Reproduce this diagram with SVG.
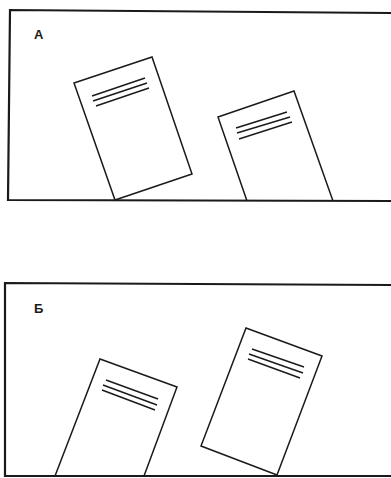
<svg xmlns="http://www.w3.org/2000/svg" width="391" height="478" viewBox="0 0 391 478">
<style>
.frame{fill:none;stroke:#1a1a1a;stroke-width:2.2;stroke-linejoin:miter}
.doc{fill:#fff;stroke:#1a1a1a;stroke-width:1.5;stroke-linejoin:miter}
.ln{stroke:#1a1a1a;stroke-width:1.4;fill:none}
.lbl{font-family:"Liberation Sans",Arial,sans-serif;font-weight:bold;font-size:13px;fill:#1a1a1a}
</style>
<rect width="391" height="478" fill="#fff"/>
<g id="panelA">
<text class="lbl" x="34" y="39">A</text>
<g id="docA1">
<polygon class="doc" points="74,83 152,57 192,174 115,200"/>
<line class="ln" x1="92" y1="96" x2="145" y2="78"/>
<line class="ln" x1="93" y1="101" x2="147" y2="83"/>
<line class="ln" x1="96" y1="106" x2="149" y2="88"/>
</g>
<g id="docA2">
<polyline class="doc" points="247,201 218,117 294,91 333,201"/>
<line class="ln" x1="236" y1="128" x2="287" y2="112"/>
<line class="ln" x1="237" y1="133" x2="290" y2="117"/>
<line class="ln" x1="239" y1="139" x2="292" y2="122"/>
</g>
<path class="frame" d="M391,13 L10,10 L8,200 L391,201"/>
</g>
<g id="panelB">
<text class="lbl" x="34" y="313">Б</text>
<g id="docB1">
<polyline class="doc" points="55,476 100,359 177,387 144,476"/>
<line class="ln" x1="106" y1="380" x2="158" y2="399"/>
<line class="ln" x1="103" y1="385" x2="157" y2="405"/>
<line class="ln" x1="102" y1="390" x2="155" y2="410"/>
</g>
<g id="docB2">
<polygon class="doc" points="246,328 322,356 277,475 201,446"/>
<line class="ln" x1="252" y1="349" x2="304" y2="367"/>
<line class="ln" x1="249" y1="354" x2="303" y2="373"/>
<line class="ln" x1="248" y1="359" x2="300" y2="378"/>
</g>
<path class="frame" d="M391,285 L5,283 L5,476 L391,476"/>
</g>
<g id="connectors"></g>
</svg>
